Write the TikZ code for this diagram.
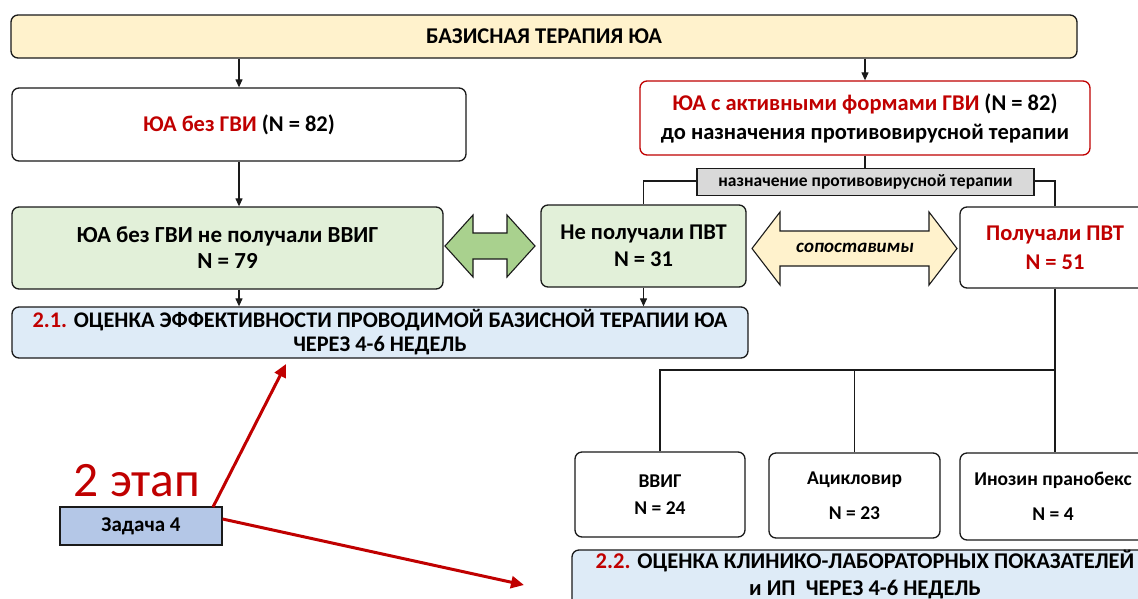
\documentclass[tikz,border=0pt]{standalone}
\usepackage{fontspec}
\setmainfont{Carlito}
\usetikzlibrary{arrows.meta}
\definecolor{dred}{HTML}{C00000}
\definecolor{yfill}{HTML}{FFF2CC}
\definecolor{gfill}{HTML}{E2F0D9}
\definecolor{bfill}{HTML}{DEEBF7}
\definecolor{grfill}{HTML}{D9D9D9}
\definecolor{garrow}{HTML}{A9D18E}
\definecolor{zfill}{HTML}{B4C7E7}
\definecolor{edge}{HTML}{1A1A1A}
\begin{document}
\begin{tikzpicture}[x=1pt,y=-1pt,
  box/.style={draw=edge, line width=1.3pt, rounded corners=7pt, align=center, inner sep=0pt,
    font=\bfseries\fontsize{22.5}{27}\selectfont},
  conn/.style={draw=edge, line width=1.2pt},
  arr/.style={conn, -{Triangle[length=8pt,width=7pt]}},
  redarr/.style={draw=dred, line width=3pt, -{Triangle[length=13pt,width=12pt]}}
]
\useasboundingbox (0,0) rectangle (1138,598);
\clip (0,0) rectangle (1138,598);
\fill[white] (0,0) rectangle (1138,598);

% nodes
\node[box, fill=yfill, minimum width=1066, minimum height=43] (bar) at (544,36.5) {БАЗИСНАЯ ТЕРАПИЯ ЮА};
\node[box, fill=white, minimum width=454, minimum height=73] (box1) at (239,124.5) {\textcolor{dred}{ЮА без ГВИ} (N = 82)};
\node[box, draw=dred, fill=white, minimum width=450, minimum height=74, font=\bfseries\fontsize{22.5}{29}\selectfont] (red) at (865,118)
  {\textcolor{dred}{ЮА с активными формами ГВИ} (N = 82)\\до назначения противовирусной терапии};
\node[box, fill=gfill, minimum width=431, minimum height=82, font=\bfseries\fontsize{23}{26}\selectfont] (green1) at (227.5,248) {ЮА без ГВИ не получали ВВИГ\\N = 79};
\node[box, fill=gfill, minimum width=205, minimum height=82] (npvt) at (643.5,246) {Не получали ПВТ\\N = 31};
\node[box, fill=white, minimum width=190, minimum height=81, font=\bfseries\fontsize{22.5}{29}\selectfont, text=dred] (pvt) at (1055,247.5) {Получали ПВТ\\N = 51};
\node[box, fill=bfill, minimum width=736, minimum height=51, font=\bfseries\fontsize{22.3}{24}\selectfont] (blue21) at (380,332.5)
  {\textcolor{dred}{2.1.} ОЦЕНКА ЭФФЕКТИВНОСТИ ПРОВОДИМОЙ БАЗИСНОЙ ТЕРАПИИ ЮА\\ЧЕРЕЗ 4-6 НЕДЕЛЬ};
\node[box, fill=white, minimum width=170, minimum height=85, font=\bfseries\fontsize{19.5}{27}\selectfont] (vvig) at (660,494.5) {ВВИГ\\N = 24};
\node[box, fill=white, minimum width=171, minimum height=85, font=\bfseries\fontsize{19.5}{35}\selectfont] (acik) at (854.5,495.5) {Ацикловир\\N = 23};
\node[box, fill=white, minimum width=186, minimum height=87, font=\bfseries\fontsize{19.5}{35}\selectfont] (inoz) at (1053,496.5) {Инозин пранобекс\\N = 4};
\node[box, fill=bfill, minimum width=586, minimum height=64] (blue22) at (865,582) {};
\node[align=center, inner sep=0pt, font=\bfseries\fontsize{22.5}{27}\selectfont] (blue22t) at (865,574.5)
  {\textcolor{dred}{2.2.} ОЦЕНКА КЛИНИКО-ЛАБОРАТОРНЫХ ПОКАЗАТЕЛЕЙ\\и ИП\ \ ЧЕРЕЗ 4-6 НЕДЕЛЬ};

% connectors
\draw[arr] (box1.north |- bar.south) -- (box1.north);
\draw[arr] (red.north |- bar.south) -- (red.north);
\draw[conn] (red.south) -- ++(0,14) coordinate (gtop);
\draw[conn] (npvt.north) |- (865,181) -| (pvt.north);
\node[draw=edge, line width=1.1pt, fill=grfill, minimum width=337, minimum height=27, inner sep=0pt,
  font=\bfseries\fontsize{17.5}{20}\selectfont] (gray) at (865.5,182) {назначение противовирусной терапии};
\draw[arr] (box1.south) -- (box1.south |- green1.north);
\draw[arr] (box1.south |- green1.south) -- (box1.south |- blue21.north);
\draw[arr] (npvt.south) -- (npvt.south |- blue21.north);
\draw[conn] (pvt.south) -- (pvt.south |- inoz.north);
\draw[conn] (vvig.north) |- (pvt.south |- 0,370);
\draw[conn] (acik.north) -- (acik.north |- 0,370);

% double arrows
\draw[draw=edge, line width=1.1pt, fill=garrow] (445,246) -- (473,215) -- (473,233) -- (507,233) -- (507,215) -- (535,246)
  -- (507,277) -- (507,259) -- (473,259) -- (473,277) -- cycle;
\draw[draw=edge, line width=1.1pt, fill=yfill] (752,248.5) -- (780,212) -- (780,231) -- (929,231) -- (929,212) -- (957,248.5)
  -- (929,285) -- (929,266) -- (780,266) -- (780,285) -- cycle;
\node[font=\bfseries\itshape\fontsize{19}{20}\selectfont] (sop) at (855,248) {сопоставимы};

% stage 2
\node[text=dred, font=\fontsize{49.5}{50}\selectfont, inner sep=0pt] (etap) at (137,481) {2 этап};
\node[draw=edge, line width=1.2pt, fill=zfill, minimum width=162, minimum height=38, inner sep=0pt,
  font=\bfseries\fontsize{21}{22}\selectfont] (zad) at (141,526) {Задача 4};
\coordinate (t1) at (286,364);
\coordinate (t2) at (524,585);
\draw[redarr] (213,507) -- (t1);
\draw[redarr] (zad.east |- 0,519) -- (t2);
\end{tikzpicture}
\end{document}
